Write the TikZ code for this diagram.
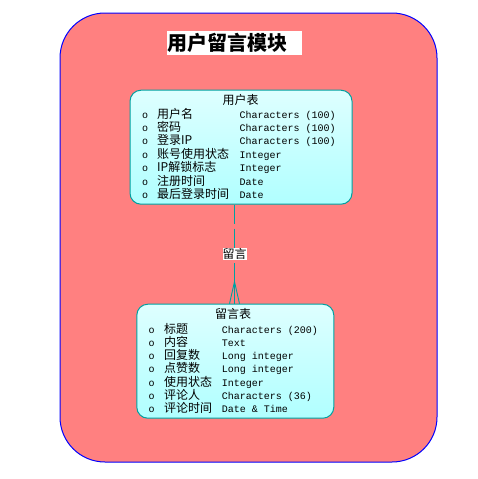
\documentclass[tikz,border=0pt]{standalone}
\usepackage{fontspec}
\setmonofont{Liberation Mono}
\newfontfamily\cjk{Noto Sans CJK SC}
\definecolor{modfill}{RGB}{255,128,128}
\definecolor{modline}{RGB}{0,0,255}
\definecolor{entline}{RGB}{0,160,160}
\definecolor{enttop}{RGB}{222,255,255}
\definecolor{entbot}{RGB}{176,255,255}
\begin{document}
\begin{tikzpicture}[x=1pt,y=-1pt,
  module/.style={draw=modline, fill=modfill, line width=1pt, rounded corners=45pt, inner sep=0},
  entity/.style={draw=entline, line width=1pt, rounded corners=11pt, top color=enttop, bottom color=entbot, inner sep=0},
  enttitle/.style={inner sep=0, font=\cjk\fontsize{12}{12}\selectfont},
  bullet/.style={anchor=base, inner sep=0, font=\ttfamily\fontsize{10}{12}\selectfont},
  attr/.style={anchor=base west, inner sep=0, font=\cjk\fontsize{12}{12}\selectfont},
  dtype/.style={anchor=base west, inner sep=0, font=\ttfamily\fontsize{10}{12}\selectfont},
  conn/.style={draw=entline, line width=0.9pt},
  rel/.style={fill=white, inner sep=0, minimum width=24pt, minimum height=12.5pt, font=\cjk\fontsize{12}{12}\selectfont}
]
\fill[white] (0,0) rectangle (477,479);
\useasboundingbox (0,0) rectangle (477,479);

\node[module, minimum width=377pt, minimum height=449pt] (mod) at (248.5,237.5) {};
\node[fill=white, inner sep=0, minimum height=24pt, text width=135pt, align=left,
      font=\cjk\bfseries\fontsize{20}{20}\selectfont] (title) at (234.2,43) {\hspace{0.5pt}用户留言模块};

% upper entity
\node[entity, minimum width=222pt, minimum height=114pt] (user) at (241,147.2) {};
\node[enttitle] (usert) at (240.5,100) {用户表};
\foreach \i/\n/\t [count=\k] in {0/用户名/Characters (100), 1/密码/Characters (100), 2/登录IP/Characters (100),
  3/账号使用状态/Integer, 4/IP解锁标志/Integer, 5/注册时间/Date, 6/最后登录时间/Date}{
  \pgfmathsetmacro\yy{118+13.45*\i}
  \node[bullet] (ub\k) at (145,\yy) {o};
  \node[attr] (un\k) at (157,\yy) {\n};
  \node[dtype] (ut\k) at (239.3,\yy) {\t};
}

% lower entity
\node[entity, minimum width=197pt, minimum height=114pt] (msg) at (235.3,361.2) {};
\node[enttitle] (msgt) at (233,313.5) {留言表};
\foreach \i/\n/\t [count=\k] in {0/标题/Characters (200), 1/内容/Text, 2/回复数/Long integer,
  3/点赞数/Long integer, 4/使用状态/Integer, 5/评论人/Characters (36), 6/评论时间/Date \& Time}{
  \pgfmathsetmacro\yy{333+13.25*\i}
  \node[bullet] (mb\k) at (151.7,\yy) {o};
  \node[attr] (mn\k) at (164,\yy) {\n};
  \node[dtype] (mt\k) at (221.7,\yy) {\t};
}

% relationship
\node[rel] (lbl) at (234.5,254) {留言};
\draw[conn, dash pattern=on 19pt off 5pt] (user.south -| lbl) -- (lbl.north);
\draw[conn, shorten <=3pt] (lbl.south) -- (msg.north -| lbl);
\draw[conn] (msg.north -| lbl) ++(-5,0) -- ++(5,-22) -- ++(5,22);
\end{tikzpicture}
\end{document}
